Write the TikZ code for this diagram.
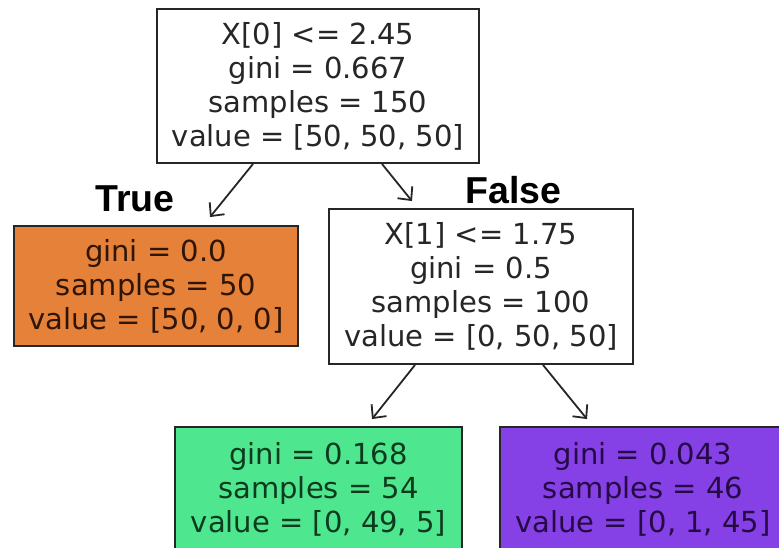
\documentclass[tikz,border=0pt]{standalone}
\usepackage{fontspec}
\setmainfont{DejaVu Sans}
\newfontfamily\labelfont{Liberation Sans}
\usetikzlibrary{arrows.meta}
\definecolor{orangefill}{HTML}{E58139}
\definecolor{greenfill}{HTML}{4EE78F}
\definecolor{purplefill}{HTML}{8540E6}
\definecolor{orangetext}{HTML}{2E1506}
\definecolor{greentext}{HTML}{0E3A1E}
\definecolor{purpletext}{HTML}{250A45}
\tikzset{
  treebox/.style={draw=black!85, line width=1.9pt, align=center, inner sep=0pt,
    font=\fontsize{29}{34}\selectfont, text=black!85},
  arr/.style={draw=black!85, line width=1.8pt, -{Straight Barb[length=10pt,width=19pt,line width=1.8pt]}},
  branchlabel/.style={font=\labelfont\bfseries\fontsize{37.5}{40}\selectfont, inner sep=0pt}
}
\begin{document}
\begin{tikzpicture}[x=1pt,y=-1pt]
\useasboundingbox (0,0) rectangle (779,547);
\clip (0,0) rectangle (779,547);
\fill[white] (0,0) rectangle (779,547);
\node[treebox, fill=white, minimum width=322pt, minimum height=154pt] (root) at (318,86)
  {X[0] <= 2.45\\gini = 0.667\\samples = 150\\value = [50, 50, 50]};
\node[treebox, fill=orangefill, text=orangetext, minimum width=284pt, minimum height=120pt] (left) at (156,286)
  {gini = 0.0\\samples = 50\\value = [50, 0, 0]};
\node[treebox, fill=white, minimum width=304pt, minimum height=155pt] (mid) at (481,286.5)
  {X[1] <= 1.75\\gini = 0.5\\samples = 100\\value = [0, 50, 50]};
\node[treebox, fill=greenfill, text=greentext, minimum width=287pt, minimum height=124pt] (green) at (318.5,489)
  {gini = 0.168\\samples = 54\\value = [0, 49, 5]};
\node[treebox, fill=purplefill, text=purpletext, minimum width=286pt, minimum height=124pt] (purple) at (643,489)
  {gini = 0.043\\samples = 46\\value = [0, 1, 45]};
\node[branchlabel] (truelbl) at (135,199) {True};
\node[branchlabel] (falselbl) at (513.5,190) {False};
\draw[arr] ([xshift=-65pt]root.south) -- ([xshift=54pt,yshift=8pt]left.north);
\draw[arr] ([xshift=64pt]root.south) -- ([xshift=-69pt,yshift=7pt]mid.north);
\draw[arr] ([xshift=-66pt]mid.south) -- ([xshift=53.5pt,yshift=7pt]green.north);
\draw[arr] ([xshift=62pt]mid.south) -- ([xshift=-56pt,yshift=7pt]purple.north);
\end{tikzpicture}
\end{document}
